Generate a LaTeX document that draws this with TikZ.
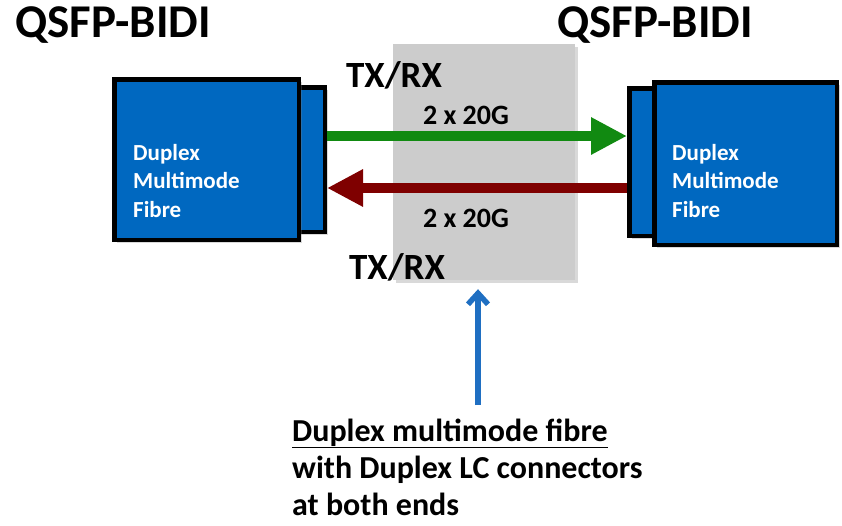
\documentclass[tikz,border=0pt]{standalone}
\usepackage{fontspec}
\setmainfont{Carlito}
\usetikzlibrary{positioning,arrows.meta,shadows}
\definecolor{port}{HTML}{0068C0}
\definecolor{txgreen}{HTML}{118A11}
\definecolor{rxred}{HTML}{7F0000}
\definecolor{cable}{HTML}{CCCCCC}
\definecolor{callout}{HTML}{1F6FC2}
\tikzset{
  module/.style={draw=black,line width=4.5pt,fill=port,inner sep=0pt,
    drop shadow={opacity=.3,shadow xshift=3pt,shadow yshift=-3pt}},
  boxtext/.style={text=white,font=\fontsize{23}{28.5}\selectfont\bfseries,align=left,anchor=west,inner sep=0pt},
  lane/.style={line width=10pt,-{Triangle[length=36pt,width=35pt]}},
  rate/.style={font=\fontsize{28}{34}\selectfont\bfseries,inner sep=0pt},
  dir/.style={font=\fontsize{37}{44}\selectfont\bfseries,inner sep=0pt},
  title/.style={font=\fontsize{47}{56}\selectfont\bfseries,inner sep=0pt}
}
\begin{document}
\begin{tikzpicture}[x=1pt,y=-1pt]
\useasboundingbox (0,0) rectangle (842,525);
% fibre patch in the middle
\node[fill=cable,minimum width=182pt,minimum height=236pt,inner sep=0pt,
  drop shadow={opacity=.3,shadow xshift=3pt,shadow yshift=-3pt}] (fibre) at (484,162) {};
% left transceiver
\node[module,minimum width=32.5pt,minimum height=144.5pt] (ltab) at (308.5,159.5) {};
\node[module,minimum width=184.5pt,minimum height=160.5pt] (lbox) at (206.5,159.5) {};
\node[boxtext] (ltxt) at (133,181) {Duplex\\Multimode\\Fibre};
% right transceiver
\node[module,minimum width=33.5pt,minimum height=147.5pt] (rtab) at (646,162) {};
\node[module,minimum width=182.5pt,minimum height=162.5pt] (rbox) at (745.5,163.5) {};
\node[boxtext] (rtxt) at (672,181) {Duplex\\Multimode\\Fibre};
% titles
\node[title] (ltitle) at (113,25) {QSFP-BIDI};
\node[title] (rtitle) at (655,25) {QSFP-BIDI};
% the two lanes
\coordinate (up) at (0,136);
\coordinate (down) at (0,188);
\draw[lane,txgreen] (ltab.east |- up) -- (rtab.west |- up);
\draw[lane,rxred] (rtab.west |- down) -- (ltab.east |- down);
\node[dir] (txtop) at (394,75) {TX/RX};
\node[rate] (ratetop) at (466,115) {2 x 20G};
\node[rate] (ratebot) at (466,218) {2 x 20G};
\node[dir] (txbot) at (397,267) {TX/RX};
% callout
\node[font=\fontsize{32}{37}\selectfont\bfseries,align=left,anchor=base west,inner sep=0pt] (note) at (292,515)
  {\underline{Duplex multimode fibre}\\with Duplex LC connectors\\at both ends};
\coordinate (tail) at (478,405);
\draw[callout,line width=5.5pt,-{Straight Barb[length=11pt,width=20pt,line width=5.5pt]},shorten >=9pt] (tail) -- (tail |- fibre.south);
\end{tikzpicture}
\end{document}
